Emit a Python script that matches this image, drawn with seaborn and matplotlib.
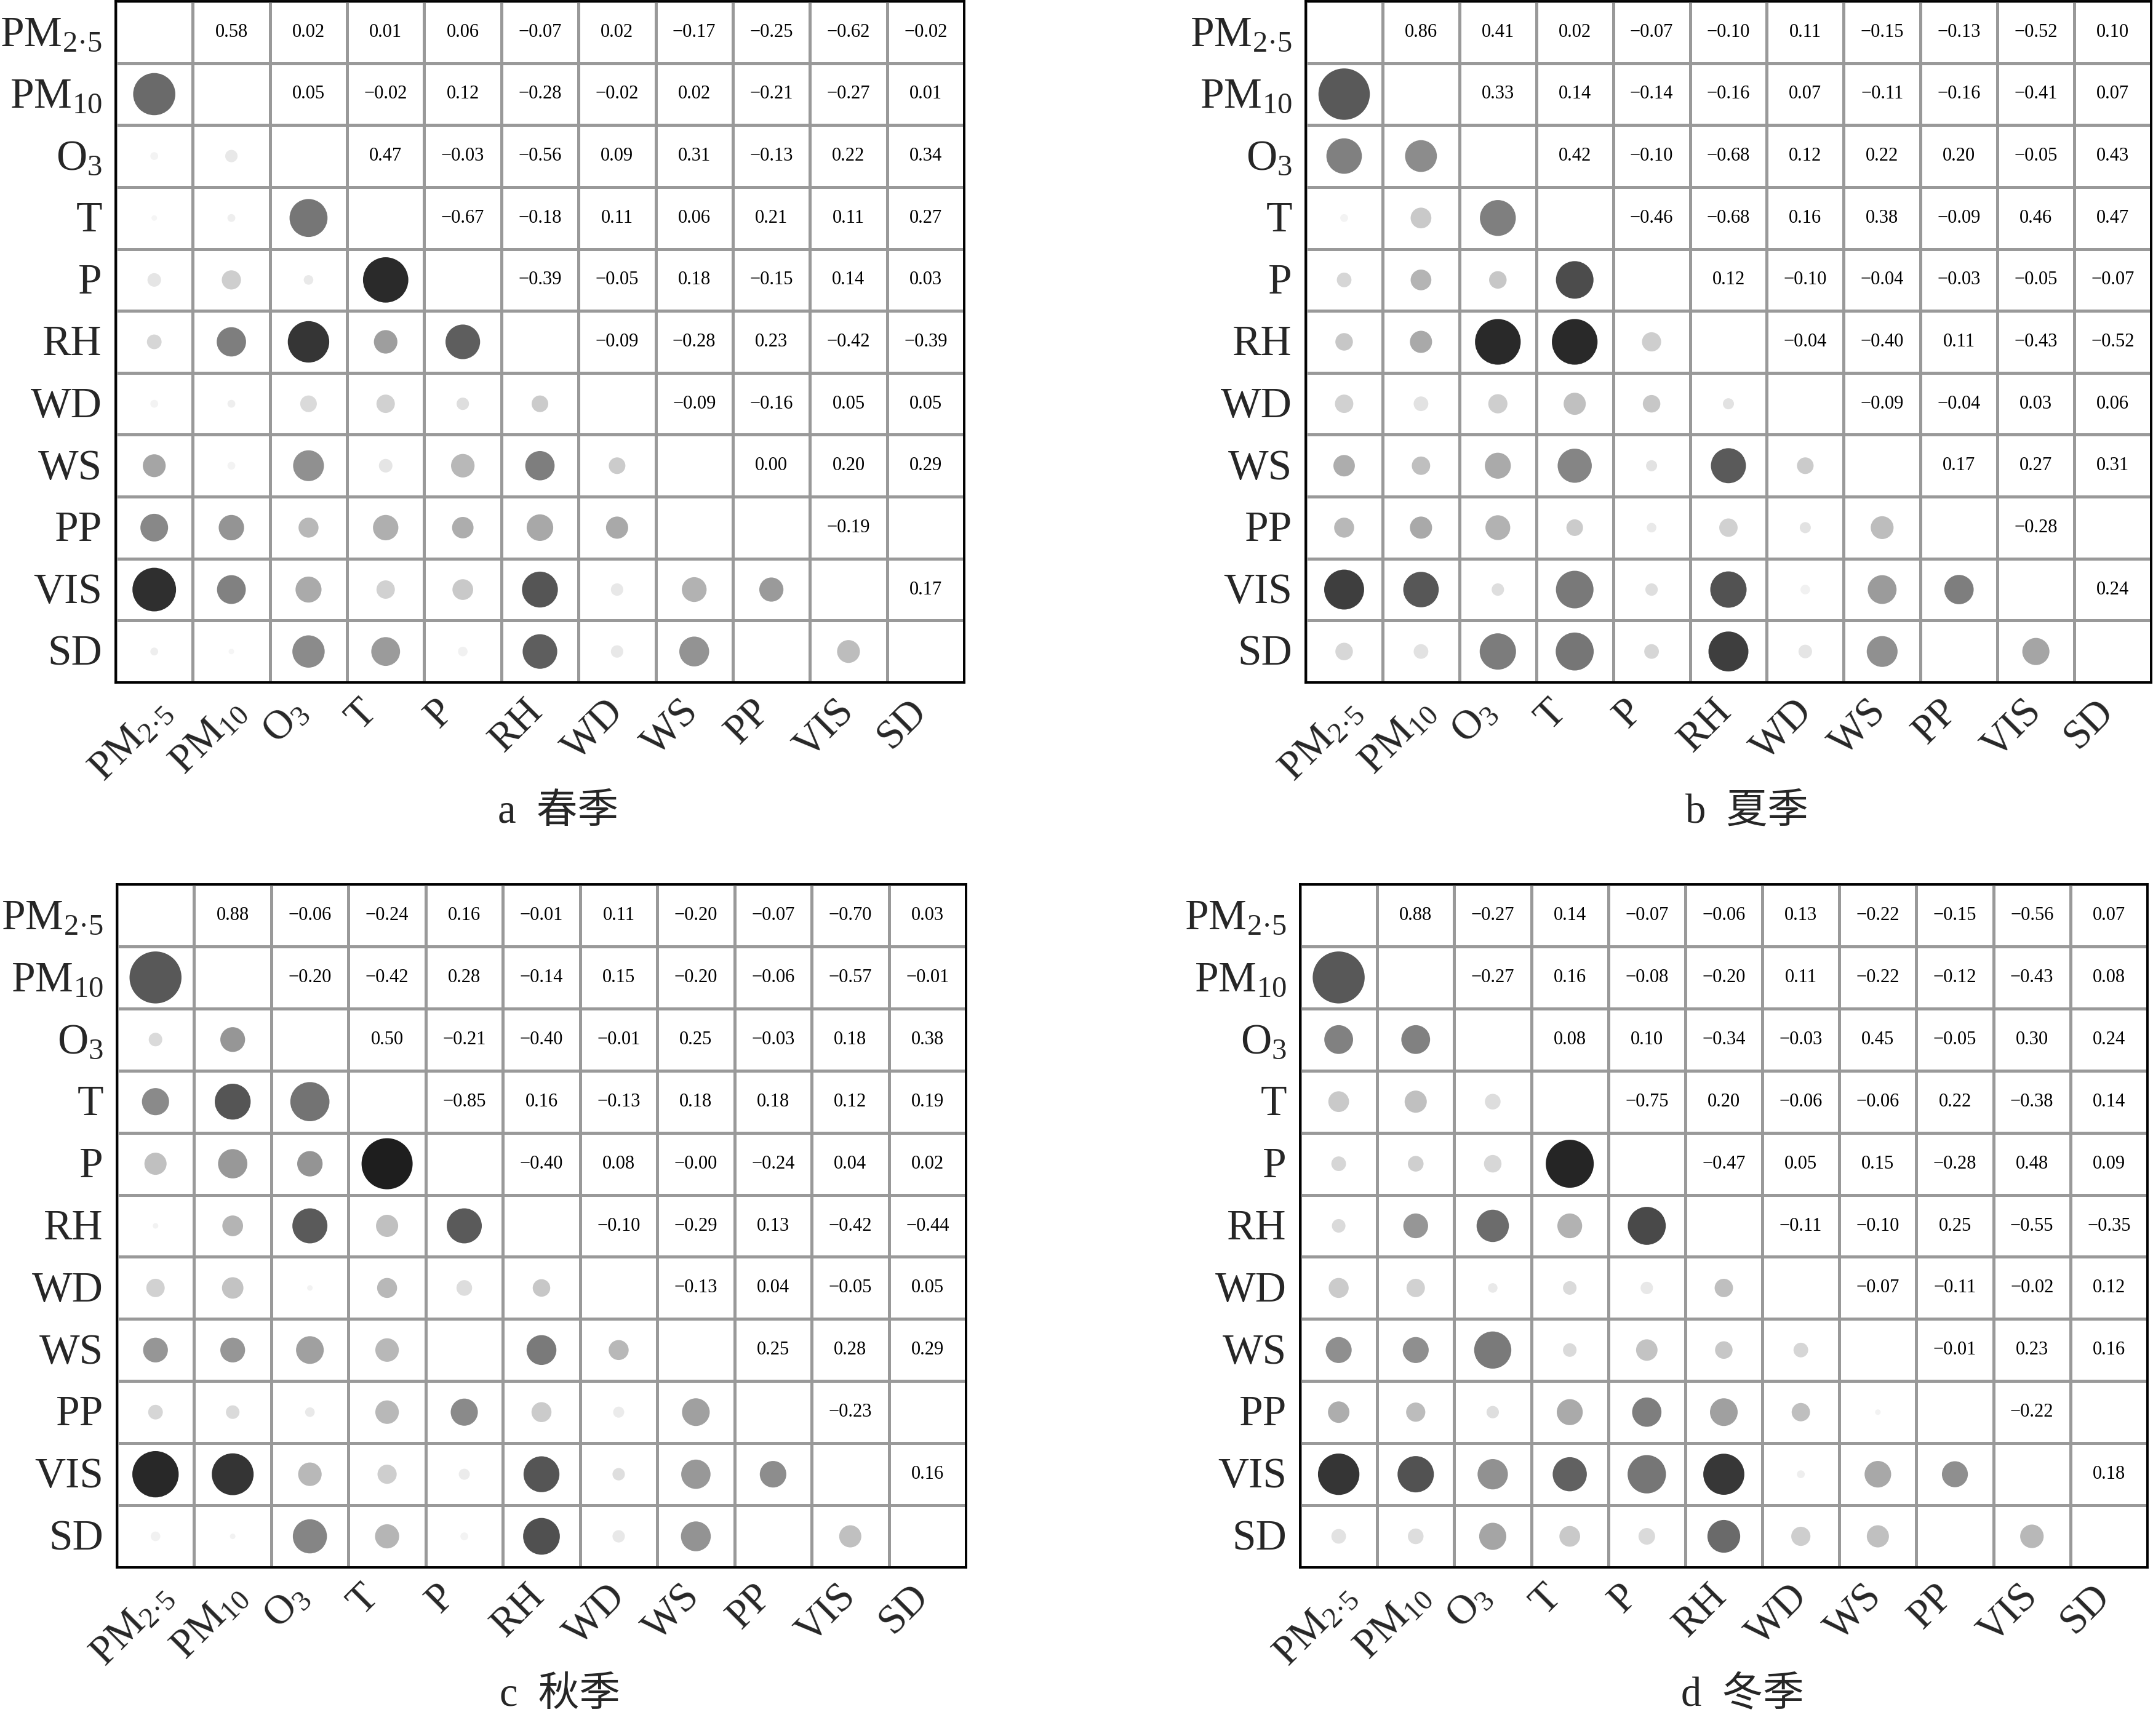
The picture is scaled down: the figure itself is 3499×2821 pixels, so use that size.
import numpy as np
import pandas as pd
import matplotlib
matplotlib.use('Agg')
import matplotlib.pyplot as plt
import matplotlib.transforms as mtransforms
from matplotlib.colors import ListedColormap, LinearSegmentedColormap
import seaborn as sns

# variables (row / column order of every matrix)
variables = ['PM2.5', 'PM10', 'O3', 'T', 'P', 'RH', 'WD', 'WS', 'PP', 'VIS', 'SD']
tick_labels = ['PM$_{\\mathrm{2·5}}$', 'PM$_{\\mathrm{10}}$', 'O$_{\\mathrm{3}}$',
               'T', 'P', 'RH', 'WD', 'WS', 'PP', 'VIS', 'SD']

nan = np.nan
# upper triangle: row i holds r(var_i, var_j) for j > i
spring = [
    [0.58, 0.02, 0.01, 0.06, -0.07, 0.02, -0.17, -0.25, -0.62, -0.02],
    [0.05, -0.02, 0.12, -0.28, -0.02, 0.02, -0.21, -0.27, 0.01],
    [0.47, -0.03, -0.56, 0.09, 0.31, -0.13, 0.22, 0.34],
    [-0.67, -0.18, 0.11, 0.06, 0.21, 0.11, 0.27],
    [-0.39, -0.05, 0.18, -0.15, 0.14, 0.03],
    [-0.09, -0.28, 0.23, -0.42, -0.39],
    [-0.09, -0.16, 0.05, 0.05],
    [0.00, 0.20, 0.29],
    [-0.19, nan],
    [0.17],
]
summer = [
    [0.86, 0.41, 0.02, -0.07, -0.10, 0.11, -0.15, -0.13, -0.52, 0.10],
    [0.33, 0.14, -0.14, -0.16, 0.07, -0.11, -0.16, -0.41, 0.07],
    [0.42, -0.10, -0.68, 0.12, 0.22, 0.20, -0.05, 0.43],
    [-0.46, -0.68, 0.16, 0.38, -0.09, 0.46, 0.47],
    [0.12, -0.10, -0.04, -0.03, -0.05, -0.07],
    [-0.04, -0.40, 0.11, -0.43, -0.52],
    [-0.09, -0.04, 0.03, 0.06],
    [0.17, 0.27, 0.31],
    [-0.28, nan],
    [0.24],
]
autumn = [
    [0.88, -0.06, -0.24, 0.16, -0.01, 0.11, -0.20, -0.07, -0.70, 0.03],
    [-0.20, -0.42, 0.28, -0.14, 0.15, -0.20, -0.06, -0.57, -0.01],
    [0.50, -0.21, -0.40, -0.01, 0.25, -0.03, 0.18, 0.38],
    [-0.85, 0.16, -0.13, 0.18, 0.18, 0.12, 0.19],
    [-0.40, 0.08, -0.00, -0.24, 0.04, 0.02],
    [-0.10, -0.29, 0.13, -0.42, -0.44],
    [-0.13, 0.04, -0.05, 0.05],
    [0.25, 0.28, 0.29],
    [-0.23, nan],
    [0.16],
]
winter = [
    [0.88, -0.27, 0.14, -0.07, -0.06, 0.13, -0.22, -0.15, -0.56, 0.07],
    [-0.27, 0.16, -0.08, -0.20, 0.11, -0.22, -0.12, -0.43, 0.08],
    [0.08, 0.10, -0.34, -0.03, 0.45, -0.05, 0.30, 0.24],
    [-0.75, 0.20, -0.06, -0.06, 0.22, -0.38, 0.14],
    [-0.47, 0.05, 0.15, -0.28, 0.48, 0.09],
    [-0.11, -0.10, 0.25, -0.55, -0.35],
    [-0.07, -0.11, -0.02, 0.12],
    [-0.01, 0.23, 0.16],
    [-0.22, nan],
    [0.18],
]
captions = ['a  春季', 'b  夏季', 'c  秋季', 'd  冬季']

sns.set_theme(style='white')
plt.rcParams['font.family'] = ['Liberation Serif', 'Noto Sans CJK SC']
plt.rcParams['mathtext.fontset'] = 'custom'
plt.rcParams['mathtext.rm'] = 'Liberation Serif'
plt.rcParams['mathtext.it'] = 'Liberation Serif:italic'

# grey scale used for the circles (negative side a bit darker)
grey_stops = [(-1.0, 20), (-0.85, 30), (-0.67, 42), (-0.56, 53), (-0.42, 85),
              (-0.30, 120), (-0.20, 150), (-0.10, 198), (-0.03, 232), (0.0, 248),
              (0.03, 240), (0.10, 214), (0.20, 178), (0.30, 145), (0.47, 119),
              (0.58, 106), (0.88, 88), (1.0, 80)]
grey_cmap = LinearSegmentedColormap.from_list(
    'corr_grey', [((r + 1) / 2, (g / 255, g / 255, g / 255)) for r, g in grey_stops])


def full_matrix(rows):
    n = len(variables)
    m = np.full((n, n), np.nan)
    for i, row in enumerate(rows):
        for k, v in enumerate(row):
            j = i + 1 + k
            m[i, j] = v
            m[j, i] = v
    return m


def fmt(v):
    return f'{v:.2f}'.replace('-', '\u2212')


DPI = 200
fig = plt.figure(figsize=(3499 / DPI, 2821 / DPI), dpi=DPI)

# axes rectangles in pixels: left, top, right, bottom
rects_px = [(188, 2, 1567, 1109), (2122, 2, 3496, 1109),
            (190, 1437, 1570, 2547), (2113, 1437, 3490, 2547)]
caption_y = [1320, 1320, 2755, 2755]

for rows, caption, (l, t, r, b), cy in zip([spring, summer, autumn, winter], captions,
                                           rects_px, caption_y):
    ax = fig.add_axes([l / 3499, 1 - b / 2821, (r - l) / 3499, (b - t) / 2821])
    m = full_matrix(rows)
    n = len(variables)

    annot = np.full((n, n), '', dtype=object)
    pts = []
    for i in range(n):
        for j in range(n):
            v = m[i, j]
            if np.isnan(v):
                continue
            if j > i:
                annot[i, j] = fmt(v)
            elif i > j:
                pts.append({'x': j + 0.5, 'y': i + 0.5, 'r': v, 'a': abs(v)})
    pts = pd.DataFrame(pts)

    sns.heatmap(np.zeros((n, n)), cmap=ListedColormap(['white']), vmin=0, vmax=1,
                cbar=False, annot=annot, fmt='',
                annot_kws={'fontsize': 11, 'color': 'black', 'family': 'Liberation Serif'},
                linewidths=1.1, linecolor='#999999',
                xticklabels=tick_labels, yticklabels=tick_labels, ax=ax)
    sns.scatterplot(data=pts, x='x', y='y', hue='r', size='a', palette=grey_cmap,
                    hue_norm=(-1, 1), sizes=(0, 1050), size_norm=(0, 1),
                    linewidth=0, legend=False, ax=ax)
    ax.set_xlim(0, n)
    ax.set_ylim(n, 0)
    ax.set_xlabel('')
    ax.set_ylabel('')

    for s in ax.spines.values():
        s.set_visible(True)
        s.set_color('black')
        s.set_linewidth(1.4)

    ax.tick_params(axis='x', length=0, pad=6)
    ax.tick_params(axis='y', length=0, pad=8)
    ax.set_xticklabels(tick_labels, rotation=45, ha='center', va='top',
                       fontsize=24, family='Liberation Serif')
    ax.set_yticklabels(tick_labels, rotation=0, fontsize=25, family='Liberation Serif')
    dx = mtransforms.ScaledTranslation(-38 / DPI, 0, fig.dpi_scale_trans)
    for lab in ax.get_xticklabels():
        lab.set_transform(lab.get_transform() + dx)
    dy = mtransforms.ScaledTranslation(0, -5 / DPI, fig.dpi_scale_trans)
    for lab in ax.get_yticklabels():
        lab.set_transform(lab.get_transform() + dy)

    fig.text(((l + r) / 2 + 30) / 3499, 1 - cy / 2821, caption, ha='center', va='center',
             fontsize=24, family=['Liberation Serif', 'Noto Sans CJK SC'])

fig.savefig('out.png', dpi=DPI, facecolor='white')
